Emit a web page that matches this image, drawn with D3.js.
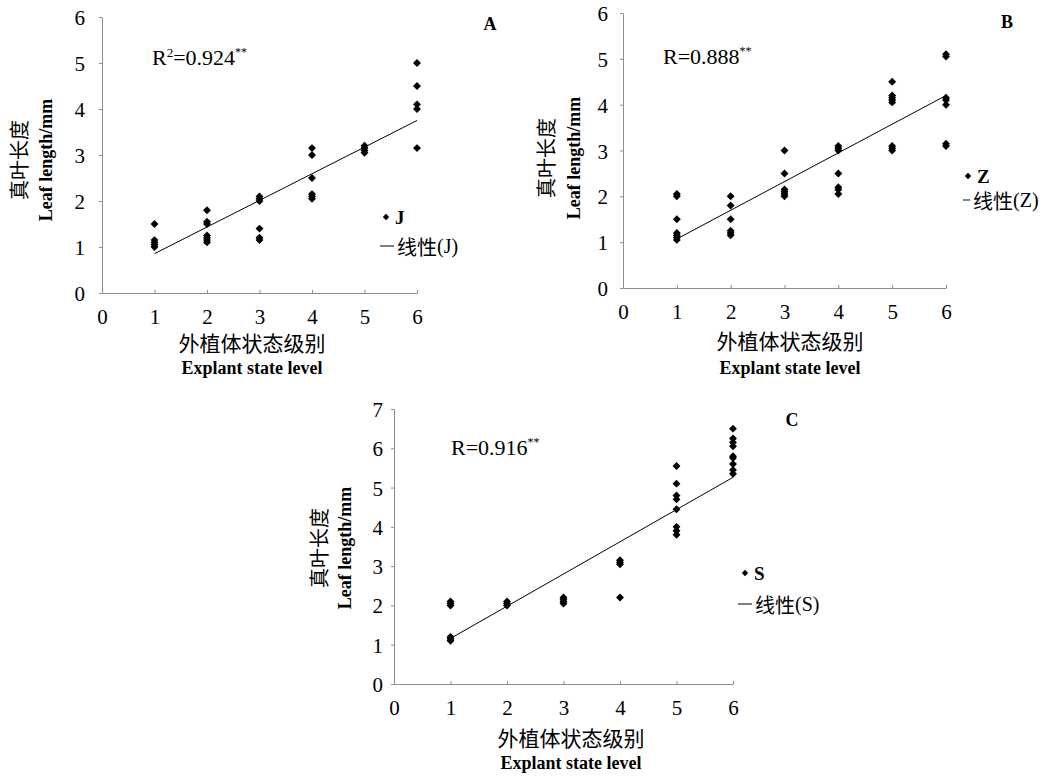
<!DOCTYPE html>
<html>
<head>
<meta charset="utf-8">
<script src="https://cdn.jsdelivr.net/npm/d3@7"></script>
<style>
  body { margin: 0; background: #fff; }
  svg { display: block; }
  .domain, .tick line { stroke: #8c8c8c; }
</style>
</head>
<body>
<svg id="chart" width="1055" height="777"></svg>
<script>
"use strict";

// explant state levels on the x axis
const levels = [1, 2, 3, 4, 5, 6];

// true leaf length (mm) per level
const lenJ = [
    [1.5, 1.15, 1.1, 1.05, 1.0],
    [1.8, 1.55, 1.5, 1.25, 1.2, 1.15, 1.1],
    [2.1, 2.05, 2.0, 1.4, 1.2, 1.15],
    [3.15, 3.0, 2.5, 2.15, 2.1, 2.05],
    [3.2, 3.15, 3.1, 3.05],
    [5.0, 4.5, 4.1, 4.0, 3.15]
];
const lenZ = [
    [2.05, 2.0, 1.5, 1.2, 1.15, 1.1, 1.05],
    [2.0, 1.8, 1.5, 1.25, 1.2, 1.15],
    [3.0, 2.5, 2.15, 2.1, 2.05, 2.0],
    [3.1, 3.05, 3.0, 2.5, 2.2, 2.15, 2.05],
    [4.5, 4.2, 4.15, 4.1, 4.05, 3.1, 3.05, 3.0],
    [5.1, 5.05, 4.15, 4.1, 4.0, 3.15, 3.1]
];
const lenS = [
    [2.1, 2.05, 2.0, 1.2, 1.15, 1.1],
    [2.1, 2.05, 2.0],
    [2.2, 2.15, 2.1, 2.05],
    [3.15, 3.1, 3.05, 2.2],
    [5.55, 5.1, 4.8, 4.7, 4.45, 4.0, 3.9, 3.8],
    [6.5, 6.25, 6.15, 6.05, 5.8, 5.75, 5.6, 5.45, 5.35]
];

// linear trend value at level 1 and level 6
const fitJ = [0.855, 3.75];
const fitZ = [1.07, 4.2];
const fitS = [1.16, 5.26];

const xTicks = [0, 1, 2, 3, 4, 5, 6];
const yTicksAB = [0, 1, 2, 3, 4, 5, 6];
const yTicksC = [0, 1, 2, 3, 4, 5, 6, 7];

const xTitleCn = "外植体状态级别";
const xTitleEn = "Explant state level";
const yTitleCn = "真叶长度";
const yTitleEn = "Leaf length/mm";

const panels = [
    { tag: "A", name: "J", data: lenJ, fit: fitJ, rLabel: "R", rSup: "2", rVal: "=0.924",
      yMax: 6, yTicks: yTicksAB, xr: [102, 417], yr: [293, 17], yPad: 14,
      tagPos: [490, 30], statPos: [152, 65],
      legMark: [386, 217], legLine: [380, 394, 246],
      xTitle: [252, 342, 368], yTitle: [18, 46, 160] },
    { tag: "B", name: "Z", data: lenZ, fit: fitZ, rLabel: "R", rSup: "", rVal: "=0.888",
      yMax: 6, yTicks: yTicksAB, xr: [623, 946], yr: [288, 13], yPad: 12,
      tagPos: [1007, 28], statPos: [663, 64],
      legMark: [968, 176], legLine: [963, 970, 200],
      xTitle: [790, 340, 368], yTitle: [545, 574, 158] },
    { tag: "C", name: "S", data: lenS, fit: fitS, rLabel: "R", rSup: "", rVal: "=0.916",
      yMax: 7, yTicks: yTicksC, xr: [394, 733], yr: [684, 409], yPad: 8,
      tagPos: [792, 426], statPos: [451, 455],
      legMark: [745, 573], legLine: [738, 752, 604],
      xTitle: [571, 737, 763], yTitle: [318, 345, 548] }
];

const svg = d3.select("#chart");
const serif = "Liberation Serif, DejaVu Serif, serif";
const cjk = "Noto Sans CJK SC, sans-serif";
const diamond = d3.symbol().type(d3.symbolDiamond2).size(40);

panels.forEach(p => {
    const x = d3.scaleLinear().domain([0, 6]).range(p.xr);
    const y = d3.scaleLinear().domain([0, p.yMax]).range(p.yr);
    const g = svg.append("g");

    const gx = g.append("g")
        .attr("transform", `translate(0,${p.yr[0]})`)
        .call(d3.axisBottom(x).tickValues(xTicks).tickFormat(d3.format("d"))
            .tickSize(-3).tickSizeOuter(0).tickPadding(16));

    const gy = g.append("g")
        .attr("transform", `translate(${p.xr[0]},0)`)
        .call(d3.axisLeft(y).tickValues(p.yTicks).tickFormat(d3.format("d"))
            .tickSize(3).tickSizeOuter(0).tickPadding(p.yPad));
    gy.selectAll(".tick text").attr("dy", "0.36em");

    [gx, gy].forEach(ax => ax.attr("font-family", serif).attr("font-size", 21)
        .selectAll(".tick text").attr("fill", "#000"));

    // trend line
    g.append("line")
        .attr("x1", x(levels[0])).attr("y1", y(p.fit[0]))
        .attr("x2", x(levels[levels.length - 1])).attr("y2", y(p.fit[1]))
        .attr("stroke", "#000").attr("stroke-width", 1);

    // points
    const pts = [];
    p.data.forEach((vals, i) => vals.forEach(v => pts.push({ lv: levels[i], v: v })));
    g.selectAll("path.pt").data(pts).enter().append("path")
        .attr("class", "pt")
        .attr("d", diamond)
        .attr("transform", d => `translate(${x(d.lv)},${y(d.v)})`)
        .attr("fill", "#000");

    // panel tag
    g.append("text").attr("x", p.tagPos[0]).attr("y", p.tagPos[1])
        .attr("text-anchor", "middle")
        .attr("font-family", serif).attr("font-size", 18).attr("font-weight", "bold")
        .text(p.tag);

    // correlation label
    const st = g.append("text").attr("x", p.statPos[0]).attr("y", p.statPos[1])
        .attr("font-family", serif).attr("font-size", 22);
    st.append("tspan").text(p.rLabel);
    if (p.rSup) st.append("tspan").attr("dy", -8).attr("font-size", 13).text(p.rSup);
    st.append("tspan").attr("dy", p.rSup ? 8 : 0).text(p.rVal);
    st.append("tspan").attr("dy", -9).attr("font-size", 12).text("**");

    // legend
    g.append("path").attr("d", d3.symbol().type(d3.symbolDiamond2).size(26))
        .attr("transform", `translate(${p.legMark[0]},${p.legMark[1]})`);
    g.append("text").attr("x", p.legMark[0] + 9).attr("y", p.legMark[1] + 7)
        .attr("font-family", serif).attr("font-size", 19).attr("font-weight", "bold")
        .text(p.name);
    g.append("line")
        .attr("x1", p.legLine[0]).attr("x2", p.legLine[1])
        .attr("y1", p.legLine[2]).attr("y2", p.legLine[2])
        .attr("stroke", "#000").attr("stroke-width", 1);
    const lt = g.append("text").attr("x", p.legLine[1] + 3).attr("y", p.legLine[2])
        .attr("dominant-baseline", "central")
        .attr("font-size", 20);
    lt.append("tspan").attr("font-family", cjk).text("线性");
    lt.append("tspan").attr("font-family", serif).text(`(${p.name})`);

    // axis titles
    g.append("text").attr("x", p.xTitle[0]).attr("y", p.xTitle[1])
        .attr("text-anchor", "middle").attr("dominant-baseline", "central")
        .attr("font-family", cjk).attr("font-size", 21)
        .text(xTitleCn);
    g.append("text").attr("x", p.xTitle[0]).attr("y", p.xTitle[2])
        .attr("text-anchor", "middle").attr("dominant-baseline", "central")
        .attr("font-family", serif).attr("font-size", 18).attr("font-weight", "bold")
        .text(xTitleEn);
    g.append("text")
        .attr("transform", `translate(${p.yTitle[0]},${p.yTitle[2]}) rotate(-90)`)
        .attr("text-anchor", "middle").attr("dominant-baseline", "central")
        .attr("font-family", cjk).attr("font-size", 20)
        .text(yTitleCn);
    g.append("text")
        .attr("transform", `translate(${p.yTitle[1]},${p.yTitle[2]}) rotate(-90)`)
        .attr("text-anchor", "middle").attr("dominant-baseline", "central")
        .attr("font-family", serif).attr("font-size", 18).attr("font-weight", "bold")
        .text(yTitleEn);
});
</script>
</body>
</html>
